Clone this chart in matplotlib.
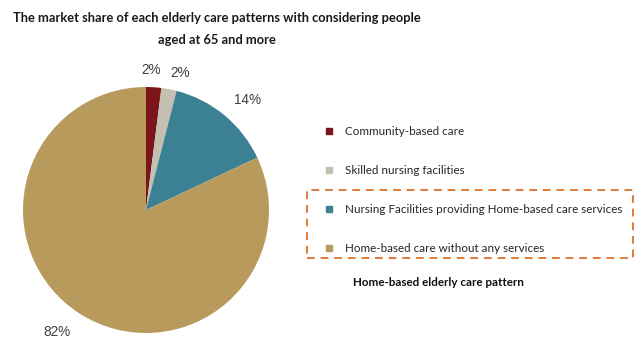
import matplotlib
matplotlib.use("Agg")
import matplotlib.pyplot as plt
from matplotlib.patches import Rectangle
from matplotlib.lines import Line2D

# Market share of elderly care patterns (people aged 65+)
categories = [
    "Community-based care",
    "Skilled nursing facilities",
    "Nursing Facilities providing Home-based care services",
    "Home-based care without any services",
]
shares = [2, 2, 14, 82]
colors = ["#7b1519", "#c3c0b2", "#3c8193", "#b99a5d"]

W, H = 636, 342
fig = plt.figure(figsize=(W / 100, H / 100), dpi=100)
fig.patch.set_facecolor("white")

def fx(px):
    return px / W

def fy(py):
    return 1 - py / H

# Pie axes: centre (146, 210) px, radius 123 px
cx, cy, r = 146, 210, 123
ax = fig.add_axes([fx(cx - r), fy(cy + r), 2 * r / W, 2 * r / H])
wedges, _, autotexts = ax.pie(
    shares,
    colors=colors,
    startangle=90,
    counterclock=False,
    autopct="%d%%",
    pctdistance=1.2,
    wedgeprops=dict(linewidth=0),
    textprops=dict(fontsize=9.8, color="#404040", family="Liberation Sans"),
)
# nudge the percentage labels so the two small slices don't collide
label_pos = [(0.041, 1.138), (0.276, 1.114), (0.829, 0.894), (-0.72, -0.992)]
for t, p in zip(autotexts, label_pos):
    t.set_position(p)
ax.set_xlim(-1, 1)
ax.set_ylim(-1, 1)
ax.set_aspect("auto")
ax.axis("off")

# Title
title_font = dict(family="Lato", fontweight="bold", fontsize=9.25, color="#1a1a1a")
fig.text(fx(217), fy(18), "The market share of each elderly care patterns with considering people",
         ha="center", va="center", **title_font)
fig.text(fx(217), fy(40), "aged at 65 and more", ha="center", va="center", **title_font)

# Legend
handles = [Line2D([], [], linestyle="none", marker="s", markersize=4.5,
                  markerfacecolor=c, markeredgecolor=c) for c in colors]
leg = fig.legend(handles, categories, loc="upper left",
                 bbox_to_anchor=(fx(320), fy(120)), frameon=False,
                 prop=dict(family="Lato", size=8.4), labelspacing=2.4,
                 handlelength=0.6, handletextpad=1.05, borderpad=0)
for t in leg.get_texts():
    t.set_color("#262626")

# Dashed highlight box around home-based patterns
box = Rectangle((fx(307), fy(258)), fx(633) - fx(307), fy(190) - fy(258),
                transform=fig.transFigure, fill=False, edgecolor="#e07b39",
                linestyle=(0, (4, 3)), linewidth=1.4)
fig.add_artist(box)

fig.text(fx(353), fy(283), "Home-based elderly care pattern", ha="left", va="center",
         family="Lato", fontweight="bold", fontsize=8.4, color="#111111")

fig.savefig("out.png", dpi=100, facecolor="white")
